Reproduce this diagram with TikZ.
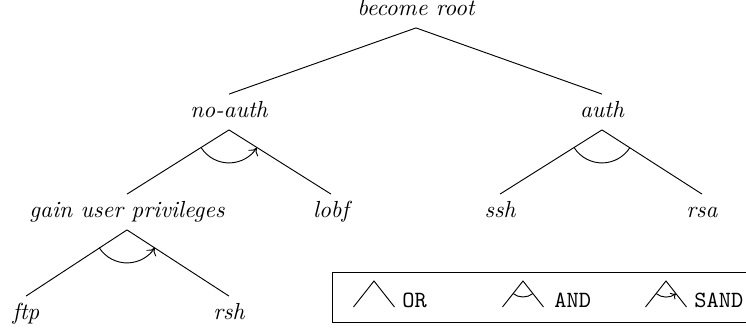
\documentclass[tikz,border=0pt]{standalone}
\usetikzlibrary{calc,arrows.meta}
\begin{document}
\begin{tikzpicture}[x=0.43pt,y=0.43pt,
  lbl/.style={font=\itshape, inner sep=3pt, text height=7pt, text depth=2pt},
  legtxt/.style={font=\ttfamily, anchor=base west, inner sep=0pt},
  sandarrow/.style={-{To[length=3pt,width=5pt]}},
  legarrow/.style={-{To[length=2pt,width=3.5pt]}}]
\useasboundingbox (0,0) rectangle (746,-330);
% tree nodes
\node[lbl] (root)   at (416,-10)  {become root};
\node[lbl] (noauth) at (229,-112) {no-auth};
\node[lbl] (auth)   at (602,-112) {auth};
\node[lbl] (gain)   at (127,-212) {gain user privileges};
\node[lbl] (lobf)   at (331,-212) {lobf};
\node[lbl] (ssh)    at (500,-212) {ssh};
\node[lbl] (rsa)    at (702,-212) {rsa};
\node[lbl] (ftp)    at (26,-314)  {ftp};
\node[lbl] (rsh)    at (229,-314) {rsh};
% connectors
\draw (root.south) -- (noauth.north);
\draw (root.south) -- (auth.north);
\draw (noauth.south) -- (gain.north);
\draw (noauth.south) -- (lobf.north);
\draw (auth.south) -- (ssh.north);
\draw (auth.south) -- (rsa.north);
\draw (gain.south) -- (ftp.north);
\draw (gain.south) -- (rsh.north);
% refinement arcs
\draw[sandarrow] ($(noauth.south)+(212.6:33)$) arc[start angle=212.6, end angle=327.4, radius=33];
\draw ($(auth.south)+(212.6:33)$) arc[start angle=212.6, end angle=327.4, radius=33];
\draw[sandarrow] ($(gain.south)+(212.6:33)$) arc[start angle=212.6, end angle=327.4, radius=33];
% legend
\draw (332,-272) rectangle (750,-322);
\coordinate (orA)   at (374,-281);
\coordinate (andA)  at (523,-281);
\coordinate (sandA) at (666,-281);
\draw ($(orA)+(-20.5,-26)$) -- (orA) -- ($(orA)+(20.5,-26)$);
\draw ($(andA)+(-20.5,-26)$) -- (andA) -- ($(andA)+(20.5,-26)$);
\draw ($(sandA)+(-20.5,-26)$) -- (sandA) -- ($(sandA)+(20.5,-26)$);
\draw ($(andA)+(231.7:16)$) arc[start angle=231.7, end angle=308.3, radius=16];
\draw[legarrow] ($(sandA)+(231.7:16)$) arc[start angle=231.7, end angle=308.3, radius=16];
\node[legtxt] (ortxt)   at (402,-307) {OR};
\node[legtxt] (andtxt)  at (554,-307) {AND};
\node[legtxt] (sandtxt) at (694,-307) {SAND};
\end{tikzpicture}
\end{document}
